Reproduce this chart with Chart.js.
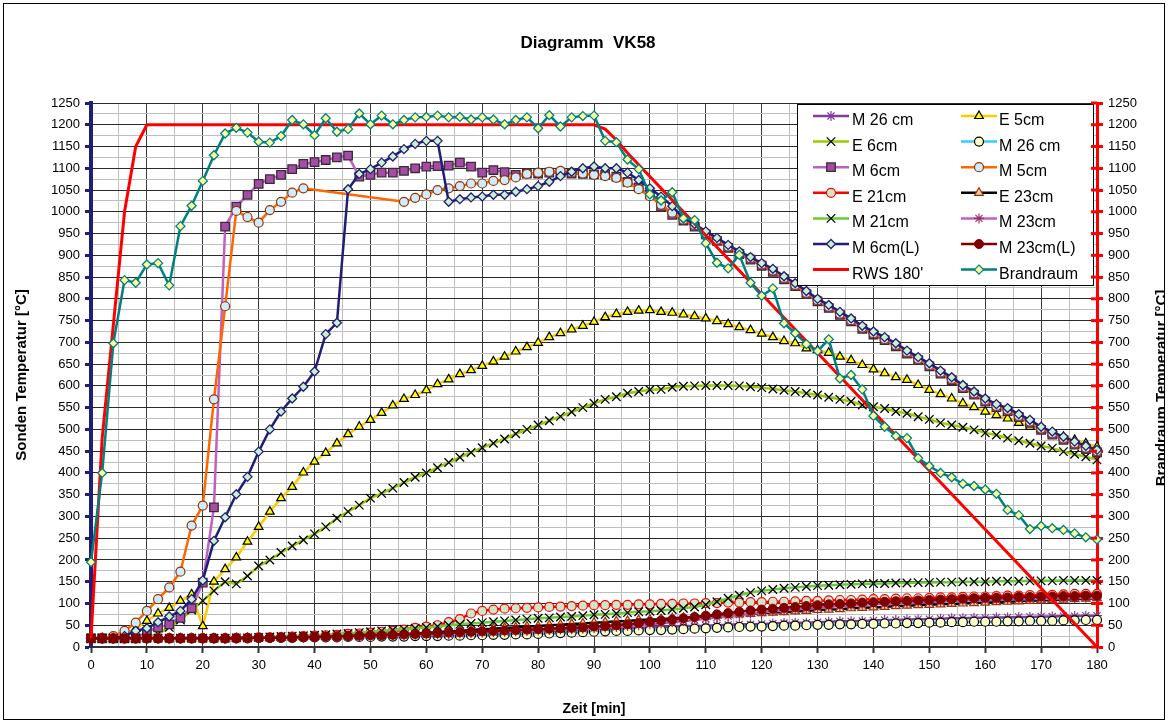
<!DOCTYPE html>
<html>
<head>
<meta charset="utf-8">
<script src="https://cdn.jsdelivr.net/npm/chart.js@4.4.1/dist/chart.umd.min.js"></script>
<style>
  html, body { margin: 0; padding: 0; background: #fff; }
  canvas { display: block; }
</style>
</head>
<body>
<canvas id="vk58" width="1168" height="722"></canvas>
<script>
// time axis, minutes (one reading every 2 min)
const minutes = [
  0, 2, 4, 6, 8, 10, 12, 14, 16, 18,
  20, 22, 24, 26, 28, 30, 32, 34, 36, 38,
  40, 42, 44, 46, 48, 50, 52, 54, 56, 58,
  60, 62, 64, 66, 68, 70, 72, 74, 76, 78,
  80, 82, 84, 86, 88, 90, 92, 94, 96, 98,
  100, 102, 104, 106, 108, 110, 112, 114, 116, 118,
  120, 122, 124, 126, 128, 130, 132, 134, 136, 138,
  140, 142, 144, 146, 148, 150, 152, 154, 156, 158,
  160, 162, 164, 166, 168, 170, 172, 174, 176, 178,
  180
];

const m26a = [
  20, 20, 20, 20, 20, 20, 20, 20, 20, 20,
  20, 20, 20, 21, 21, 21, 22, 22, 22, 23,
  23, 24, 24, 25, 25, 26, 26, 27, 27, 28,
  28, 29, 30, 30, 31, 32, 33, 33, 34, 35,
  36, 37, 38, 39, 40, 41, 42, 42, 43, 44,
  45, 46, 47, 48, 48, 49, 50, 51, 52, 52,
  53, 54, 55, 56, 56, 57, 58, 59, 59, 60,
  61, 62, 62, 63, 64, 64, 65, 66, 66, 67,
  67, 68, 68, 69, 69, 70, 70, 71, 71, 72,
  72
];

const e5 = [
  20, 20, 22, 28, 42, 60, 77, 90, 106, 121,
  48, 150, 179, 206, 242, 276, 311, 342, 368, 401,
  426, 446, 468, 489, 506, 522, 538, 555, 570, 579,
  590, 604, 615, 627, 636, 646, 656, 667, 679, 689,
  699, 712, 721, 730, 738, 747, 758, 765, 770, 773,
  774, 770, 768, 764, 760, 755, 749, 742, 735, 728,
  720, 712, 703, 698, 686, 682, 676, 667, 659, 648,
  638, 629, 620, 614, 602, 591, 581, 571, 560, 551,
  541, 533, 525, 515, 506, 500, 491, 483, 476, 468,
  460
];

const e6 = [
  20, 20, 20, 20, 20, 22, 30, 45, 62, 85,
  106, 129, 150, 145, 163, 186, 200, 217, 232, 246,
  260, 276, 296, 311, 326, 342, 353, 365, 378, 390,
  400, 412, 424, 436, 447, 458, 468, 478, 490, 500,
  510, 520, 530, 540, 550, 560, 569, 575, 583, 587,
  591, 592, 597, 599, 600, 601, 601, 601, 600, 598,
  596, 593, 590, 587, 583, 579, 574, 569, 564, 556,
  552, 548, 541, 537, 529, 523, 515, 510, 505, 499,
  492, 487, 480, 474, 468, 462, 457, 449, 443, 437,
  430
];

const m26b = [
  20, 20, 20, 20, 20, 20, 20, 20, 20, 20,
  20, 20, 20, 20, 20, 21, 21, 21, 21, 22,
  22, 22, 22, 23, 23, 23, 24, 24, 24, 25,
  25, 25, 26, 26, 27, 27, 28, 28, 29, 29,
  30, 31, 32, 33, 34, 35, 36, 37, 37, 38,
  39, 39, 40, 41, 42, 43, 44, 45, 46, 47,
  47, 48, 49, 49, 50, 51, 51, 52, 52, 53,
  53, 54, 54, 55, 55, 56, 56, 57, 57, 58,
  58, 58, 59, 59, 60, 60, 60, 61, 61, 62,
  62
];

const m6 = [
  20, 20, 20, 20, 20, 35, 45, 52, 67, 89,
  148, 321, 966, 1012, 1039, 1064, 1075, 1085, 1098, 1110,
  1114, 1119, 1125, 1129, 1081, 1085, 1090, 1090, 1094, 1100,
  1104, 1105, 1106, 1113, 1104, 1090, 1096, 1091, 1085, 1088,
  1088, 1090, 1090, 1088, 1087, 1086, 1085, 1081, 1069, 1056,
  1040, 1012, 993, 980, 966, 948, 933, 917, 903, 890,
  876, 862, 845, 829, 811, 794, 779, 763, 748, 731,
  718, 705, 691, 674, 659, 645, 628, 613, 595, 580,
  564, 551, 542, 528, 515, 499, 488, 476, 465, 455,
  447
];

const m5 = [
  20, 20, 25, 37, 56, 83, 110, 137, 173, 279,
  325, 569, 783, 1002, 988, 975, 1004, 1023, 1044, 1054,
  null, null, null, null, null, null, null, null, 1023, 1032,
  1040, 1050, 1054, 1059, 1065, 1065, 1071, 1073, 1079, 1087,
  1090, 1092, 1094, 1090, 1088, 1085, 1082, 1078, 1067, 1052,
  1036, 1016, 998, 982, 969, 951, 936, 920, 906, 893,
  879, 865, 848, 832, 814, 797, 782, 766, 751, 734,
  721, 708, 694, 677, 662, 648, 631, 616, 598, 583,
  567, 554, 545, 531, 518, 502, 491, 479, 468, 458,
  450
];

const e21 = [
  20, 20, 20, 20, 20, 20, 20, 20, 20, 20,
  20, 20, 20, 21, 21, 22, 22, 23, 24, 25,
  26, 27, 28, 30, 31, 33, 35, 37, 40, 44,
  47, 50, 57, 64, 77, 83, 86, 88, 89, 90,
  91, 92, 93, 94, 95, 96, 96, 97, 97, 98,
  98, 99, 99, 100, 100, 101, 101, 102, 102, 103,
  103, 104, 104, 105, 106, 106, 107, 108, 108, 109,
  110, 110, 111, 112, 112, 113, 114, 114, 115, 116,
  116, 117, 118, 118, 119, 120, 120, 121, 122, 122,
  122
];

const e23 = [
  20, 20, 20, 20, 20, 20, 20, 20, 20, 20,
  20, 20, 20, 20, 21, 21, 21, 22, 22, 23,
  23, 24, 25, 25, 26, 27, 28, 29, 30, 31,
  33, 34, 36, 37, 39, 41, 42, 44, 45, 47,
  48, 50, 51, 53, 54, 56, 57, 59, 60, 62,
  63, 64, 66, 67, 69, 70, 72, 73, 75, 76,
  78, 79, 80, 82, 83, 85, 86, 87, 89, 90,
  91, 92, 94, 95, 96, 97, 98, 99, 100, 101,
  102, 103, 104, 105, 106, 107, 108, 109, 110, 111,
  112
];

const m21 = [
  20, 20, 20, 20, 20, 20, 20, 20, 20, 20,
  20, 20, 20, 21, 21, 22, 23, 24, 25, 26,
  27, 28, 30, 31, 33, 35, 37, 39, 41, 43,
  45, 47, 50, 52, 54, 56, 58, 60, 62, 64,
  66, 67, 69, 70, 72, 74, 75, 77, 79, 81,
  82, 84, 86, 89, 92, 97, 104, 112, 119, 125,
  129, 132, 135, 137, 139, 141, 142, 143, 144, 145,
  146, 146, 147, 147, 148, 148, 149, 149, 150, 150,
  150, 151, 151, 151, 152, 152, 152, 153, 153, 153,
  153
];

const m23 = [
  20, 20, 20, 20, 20, 20, 20, 20, 20, 20,
  20, 20, 20, 20, 20, 21, 21, 21, 22, 22,
  22, 23, 23, 24, 24, 25, 26, 26, 27, 28,
  28, 29, 30, 31, 32, 33, 34, 35, 36, 37,
  38, 39, 40, 41, 42, 43, 45, 46, 48, 50,
  52, 54, 57, 59, 62, 65, 68, 71, 74, 77,
  79, 82, 84, 86, 88, 90, 92, 94, 95, 97,
  98, 99, 100, 101, 102, 103, 104, 105, 106, 107,
  108, 108, 109, 110, 110, 111, 111, 112, 112, 113,
  113
];

const m6L = [
  20, 20, 20, 25, 37, 43, 57, 70, 83, 110,
  153, 244, 298, 351, 391, 449, 500, 541, 571, 598,
  633, 719, 745, 1052, 1087, 1098, 1113, 1127, 1144, 1156,
  1163, 1163, 1023, 1029, 1033, 1035, 1039, 1039, 1046, 1052,
  1059, 1069, 1082, 1092, 1100, 1104, 1100, 1100, 1090, 1073,
  1054, 1035, 1013, 985, 972, 955, 940, 924, 909, 896,
  882, 869, 852, 836, 818, 800, 786, 770, 755, 738,
  725, 712, 698, 681, 666, 652, 635, 620, 602, 587,
  571, 558, 549, 535, 522, 506, 495, 483, 472, 462,
  453
];

const m23L = [
  20, 20, 20, 20, 20, 20, 20, 20, 20, 20,
  20, 20, 20, 20, 21, 21, 21, 22, 22, 23,
  23, 24, 24, 25, 26, 27, 27, 28, 29, 30,
  31, 32, 33, 34, 35, 36, 37, 38, 39, 40,
  41, 42, 43, 44, 45, 47, 48, 50, 52, 55,
  58, 61, 63, 66, 69, 72, 75, 78, 81, 84,
  86, 88, 90, 92, 94, 96, 98, 99, 100, 102,
  103, 104, 105, 106, 107, 108, 109, 110, 111, 112,
  113, 113, 114, 115, 115, 116, 116, 117, 117, 118,
  118
];

// fire curve (no markers), own time points
const rwsMinutes = [0, 2, 4, 6, 8, 10, 90, 92, 94, 96, 180];
const rwsValues = [20, 480, 740, 1000, 1150, 1200, 1200, 1190, 1165, 1135, 0];

const brandraum = [
  195, 400, 698, 843, 837, 879, 882, 831, 967, 1014,
  1071, 1130, 1180, 1193, 1182, 1161, 1159, 1174, 1211, 1201,
  1176, 1215, 1184, 1190, 1226, 1201, 1221, 1201, 1211, 1217,
  1218, 1221, 1217, 1218, 1212, 1217, 1212, 1201, 1211, 1217,
  1192, 1222, 1196, 1217, 1220, 1221, 1163, 1160, 1120, 1098,
  1040, 1026, 1045, 985, 981, 928, 883, 870, 901, 837,
  807, 824, 744, 721, 696, 680, 707, 617, 625, 592,
  531, 506, 485, 480, 434, 416, 400, 390, 375, 370,
  362, 352, 315, 303, 271, 278, 273, 269, 261, 252,
  247
];

const FONT = '"Liberation Sans", Arial, Helvetica, sans-serif';
Chart.defaults.font.family = FONT;
Chart.defaults.font.size = 13;
Chart.defaults.color = '#000';

function pts(xs, ys) {
  return xs.map((x, i) => ({ x: x, y: ys[i] }));
}

function line(label, values, color, marker, extra) {
  return Object.assign({
    label: label,
    data: pts(minutes, values),
    borderColor: color,
    backgroundColor: color,
    borderWidth: 2.5,
    pointStyle: marker.style,
    pointRadius: marker.r,
    pointBackgroundColor: marker.fill,
    pointBorderColor: marker.border,
    pointBorderWidth: marker.bw,
    yAxisID: 'y',
    clip: false
  }, extra || {});
}

const datasets = [
  line('M 26 cm', m26a, '#803E9A', { style: 'star', r: 5, fill: '#803E9A', border: '#803E9A', bw: 1.2 }),
  line('E 5cm', e5, '#FFCC00', { style: 'triangle', r: 5, fill: '#FFFF00', border: '#000', bw: 1.2 }),
  line('E 6cm', e6, '#99CC00', { style: 'crossRot', r: 6, fill: '#000', border: '#000', bw: 1.3 }),
  line('M 26 cm', m26b, '#33CCFF', { style: 'circle', r: 4.5, fill: '#FFFFCC', border: '#000', bw: 1.2 }),
  line('M 6cm', m6, '#C060C0', { style: 'rect', r: 6, fill: '#A54CA5', border: '#3A2A3A', bw: 1.3 }),
  line('M 5cm', m5, '#FF6600', { style: 'circle', r: 4.5, fill: '#CCECFF', border: '#993300', bw: 1.2 }, { spanGaps: true }),
  line('E 21cm', e21, '#FF0000', { style: 'circle', r: 4.5, fill: '#CCE8C8', border: '#FF0000', bw: 1.2 }),
  line('E 23cm', e23, '#000000', { style: 'triangle', r: 5, fill: '#FFCC99', border: '#993300', bw: 1.2 }),
  line('M 21cm', m21, '#66CC33', { style: 'crossRot', r: 6, fill: '#000', border: '#000', bw: 1.3 }),
  line('M 23cm', m23, '#C060C0', { style: 'star', r: 5, fill: '#993366', border: '#993366', bw: 1.2 }),
  line('M 6cm(L)', m6L, '#1F1F78', { style: 'rectRot', r: 4.5, fill: '#CCF0CC', border: '#1F1F78', bw: 1.3 }),
  line('M 23cm(L)', m23L, '#800000', { style: 'circle', r: 4.5, fill: '#800000', border: '#800000', bw: 1 }),
  {
    label: "RWS 180'",
    data: pts(rwsMinutes, rwsValues),
    borderColor: '#FF0000',
    backgroundColor: '#FF0000',
    borderWidth: 3,
    pointRadius: 0,
    yAxisID: 'y2',
    clip: false
  },
  line('Brandraum', brandraum, '#008080', { style: 'rectRot', r: 4.5, fill: '#FFFF99', border: '#008080', bw: 1.3 }, { yAxisID: 'y2' })
];
// later series painted on top, like the spreadsheet
datasets.forEach((d, i) => { d.order = 50 - i; });

const boxLegend = {
  id: 'boxLegend',
  afterDatasetsDraw(chart) {
    const ctx = chart.ctx;
    ctx.save();
    ctx.fillStyle = '#fff';
    ctx.strokeStyle = '#000';
    ctx.lineWidth = 1;
    ctx.fillRect(797.5, 104.5, 296, 181);
    ctx.strokeRect(797.5, 104.5, 296, 181);
    chart.data.datasets.forEach((ds, i) => {
      const col = i % 2;
      const row = Math.floor(i / 2);
      const x0 = col ? 961 : 813;
      const y = 116 + row * 25.6;
      ctx.strokeStyle = ds.borderColor;
      ctx.lineWidth = ds.borderWidth;
      ctx.beginPath();
      ctx.moveTo(x0, y);
      ctx.lineTo(x0 + 36, y);
      ctx.stroke();
      if (ds.pointRadius > 0) {
        ctx.fillStyle = ds.pointBackgroundColor;
        ctx.strokeStyle = ds.pointBorderColor;
        ctx.lineWidth = ds.pointBorderWidth;
        Chart.helpers.drawPoint(ctx, {
          pointStyle: ds.pointStyle, radius: ds.pointRadius,
          rotation: 0, borderWidth: ds.pointBorderWidth
        }, x0 + 18, y);
      }
      ctx.fillStyle = '#000';
      ctx.font = '16px ' + FONT;
      ctx.textAlign = 'left';
      ctx.textBaseline = 'middle';
      ctx.fillText(ds.label, col ? 999 : 852, y + 4.5);
    });
    ctx.restore();
  }
};

const frameAndTitles = {
  id: 'frameAndTitles',
  beforeDraw(chart) {
    const ctx = chart.ctx;
    ctx.save();
    ctx.fillStyle = '#fff';
    ctx.fillRect(0, 0, chart.width, chart.height);
    ctx.restore();
  },
  afterDraw(chart) {
    const ctx = chart.ctx;
    const y2 = chart.scales.y2;
    ctx.save();
    // red ticks reach into the plot as well
    ctx.strokeStyle = '#FF0000';
    ctx.lineWidth = 3;
    y2.ticks.forEach(t => {
      const py = y2.getPixelForValue(t.value);
      ctx.beginPath();
      ctx.moveTo(y2.left - 6, py);
      ctx.lineTo(y2.left, py);
      ctx.stroke();
    });
    ctx.fillStyle = '#000';
    ctx.font = 'bold 17px ' + FONT;
    ctx.textAlign = 'center';
    ctx.textBaseline = 'middle';
    ctx.fillText('Diagramm  VK58', 588, 43);
    // right axis title, cut off by the outer frame as in the original
    ctx.beginPath();
    ctx.rect(0, 0, 1164.5, chart.height);
    ctx.clip();
    ctx.translate(1162, 388);
    ctx.rotate(-Math.PI / 2);
    ctx.font = 'bold 15px ' + FONT;
    ctx.fillText('Brandraum Temperatur [°C]', 0, 0);
    ctx.restore();
    ctx.save();
    ctx.strokeStyle = '#000';
    ctx.lineWidth = 1;
    ctx.strokeRect(3.5, 3.5, 1161, 716);
    ctx.restore();
  }
};

new Chart(document.getElementById('vk58'), {
  type: 'line',
  data: { datasets: datasets },
  options: {
    responsive: false,
    animation: false,
    events: [],
    devicePixelRatio: 1,
    layout: { padding: { top: 103, left: 0, right: 0, bottom: 0 } },
    elements: { line: { tension: 0 } },
    plugins: {
      legend: { display: false },
      tooltip: { enabled: false }
    },
    scales: {
      x: {
        type: 'linear',
        min: 0,
        max: 180,
        afterFit: s => { s.height = 75; },
        border: { display: true, color: '#333', width: 2 },
        grid: {
          color: c => (c.tick.value % 10 === 0 ? '#3c3c3c' : '#bebebe'),
          tickColor: c => (c.tick.value % 10 === 0 ? '#333' : 'rgba(0,0,0,0)'),
          tickLength: 6,
          tickWidth: 2,
          lineWidth: 1
        },
        ticks: {
          stepSize: 5,
          autoSkip: false,
          maxRotation: 0,
          padding: 5,
          callback: v => (v % 10 === 0 ? String(v) : '')
        },
        title: {
          display: true,
          text: 'Zeit [min]',
          font: { size: 14, weight: 'bold' },
          padding: { top: 0, bottom: 4 }
        }
      },
      y: {
        position: 'left',
        min: 0,
        max: 1250,
        afterFit: s => { s.width = 91; },
        border: { display: true, color: '#1F1F78', width: 4 },
        grid: {
          color: c => (c.tick.value % 50 === 0 ? '#2a2a2a' : '#bebebe'),
          tickColor: c => (c.tick.value % 50 === 0 ? '#1F1F78' : 'rgba(0,0,0,0)'),
          tickLength: 6,
          tickWidth: 3,
          lineWidth: 1
        },
        ticks: {
          stepSize: 25,
          autoSkip: false,
          padding: 5,
          callback: v => (v % 50 === 0 ? String(v) : '')
        },
        title: {
          display: true,
          text: 'Sonden Temperatur [°C]',
          font: { size: 15, weight: 'bold' },
          padding: { top: 13, bottom: 0 }
        }
      },
      y2: {
        position: 'right',
        min: 0,
        max: 1250,
        afterFit: s => { s.width = 71; },
        border: { display: true, color: '#FF0000', width: 3 },
        grid: {
          drawOnChartArea: false,
          tickColor: '#FF0000',
          tickLength: 6,
          tickWidth: 3
        },
        ticks: {
          stepSize: 50,
          autoSkip: false,
          padding: 5,
          callback: v => String(v)
        }
      }
    }
  },
  plugins: [frameAndTitles, boxLegend]
});
</script>
</body>
</html>
